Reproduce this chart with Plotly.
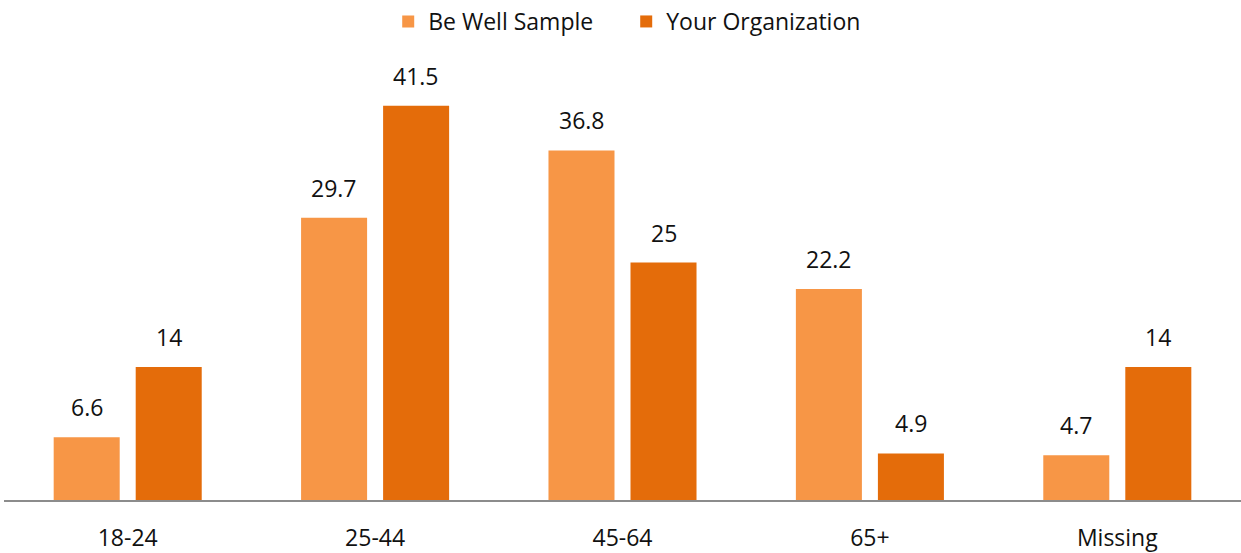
import plotly.graph_objects as go

categories = ["18-24", "25-44", "45-64", "65+", "Missing"]
be_well = [6.6, 29.7, 36.8, 22.2, 4.7]
your_org = [14, 41.5, 25, 4.9, 14]
series_names = ["Be Well Sample", "Your Organization"]
colors = ["#F79646", "#E46C0A"]

FONT = "Open Sans"
FS = 23
TXT = "#111111"

fig = go.Figure()
for name, vals, col in zip(series_names, [be_well, your_org], colors):
    fig.add_trace(go.Bar(
        x=categories, y=vals, name=name,
        marker=dict(color=col, line=dict(width=0)),
    ))

# data labels above bars, offset to each bar of the group
slot_px = 41
for shift, vals in zip([-slot_px, slot_px], [be_well, your_org]):
    for c, v in zip(categories, vals):
        fig.add_annotation(x=c, y=v, text=f"{v:g}", showarrow=False,
                           xshift=shift, yshift=12, yanchor="bottom",
                           font=dict(family=FONT, size=FS, color=TXT))

fig.update_layout(
    width=1241, height=553,
    barmode="group", bargap=0.337, bargroupgap=0.195,
    plot_bgcolor="white", paper_bgcolor="white",
    margin=dict(l=4, r=0, t=50, b=53),
    font=dict(family=FONT, size=FS, color=TXT),
    showlegend=True,
    legend=dict(orientation="h", x=0.503, xanchor="center", y=1.0, yref="container",
                yanchor="top", font=dict(size=FS), itemwidth=30, traceorder="normal",
                entrywidth=193),
    xaxis=dict(showline=True, linecolor="#8c8c8c", linewidth=1.5, ticks="",
               showgrid=False, tickfont=dict(size=FS), ticklabelstandoff=17),
    yaxis=dict(range=[0, 47.37], visible=False, showgrid=False),
)
fig.write_html("out.html", config={"displayModeBar": False},
               post_script="document.body.style.margin='0';")
